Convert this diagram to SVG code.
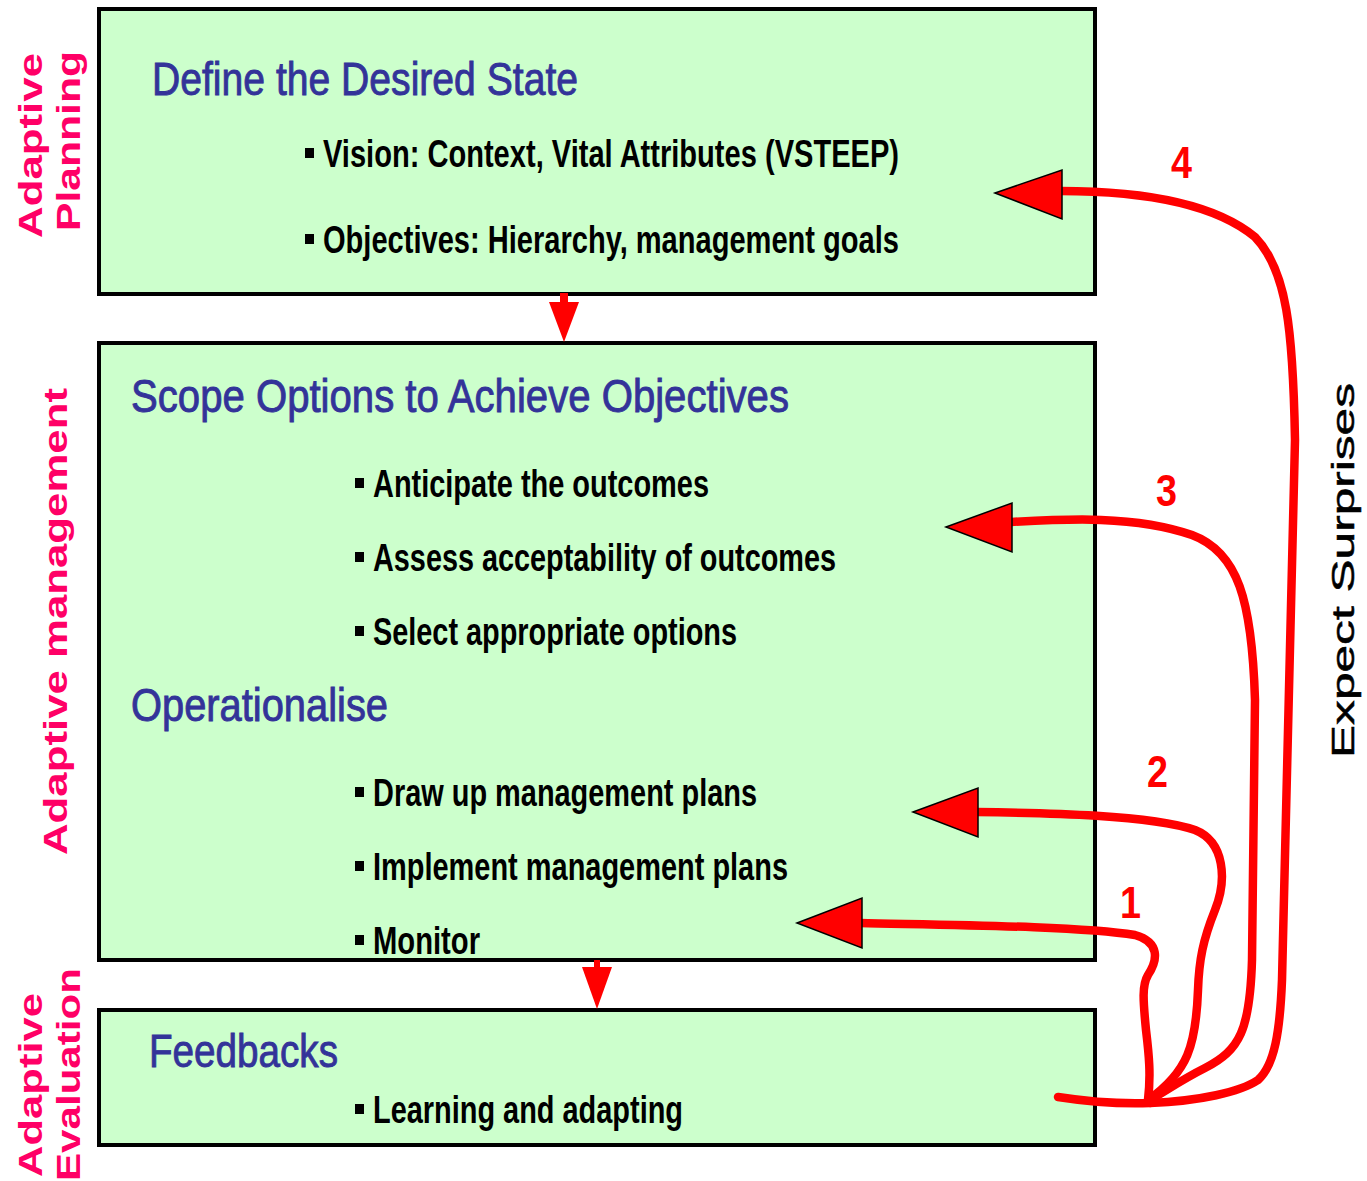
<svg xmlns="http://www.w3.org/2000/svg" width="1367" height="1181" viewBox="0 0 1367 1181">
<style>
.box{fill:#ccffcc;stroke:#000;stroke-width:4}
.head{font-family:"Liberation Sans",Arial,sans-serif;font-size:46px;fill:#333399;stroke:#333399;stroke-width:0.9}
.item{font-family:"Liberation Sans",Arial,sans-serif;font-size:38px;font-weight:bold;fill:#000}
.side{font-family:"Liberation Sans",Arial,sans-serif;font-size:34px;font-weight:bold;fill:#ff0066}
.num{font-family:"Liberation Sans",Arial,sans-serif;font-size:44px;font-weight:bold;fill:#ff0000}
.bul{fill:#000}
.loop{fill:none;stroke:#ff0000;stroke-width:8.5;stroke-linecap:round;stroke-linejoin:round}
.ah{fill:#ff0000;stroke:#000;stroke-width:1.5;stroke-linejoin:miter}
.down{fill:#ff0000}
</style>
<rect width="1367" height="1181" fill="#ffffff"/>

<g id="label-planning">
<text class="side" transform="translate(42,238) rotate(-90)" textLength="185" lengthAdjust="spacingAndGlyphs">Adaptive</text>
<text class="side" transform="translate(80,231) rotate(-90)" textLength="180" lengthAdjust="spacingAndGlyphs">Planning</text>
</g>
<g id="label-management">
<text class="side" transform="translate(67,855) rotate(-90)" textLength="467" lengthAdjust="spacingAndGlyphs">Adaptive management</text>
</g>
<g id="label-evaluation">
<text class="side" transform="translate(42,1177) rotate(-90)" textLength="184" lengthAdjust="spacingAndGlyphs">Adaptive</text>
<text class="side" transform="translate(80,1181) rotate(-90)" textLength="213" lengthAdjust="spacingAndGlyphs">Evaluation</text>
</g>
<g id="label-surprises">
<text transform="translate(1354,758) rotate(-90)" font-family="'Liberation Sans',Arial,sans-serif" font-size="31" fill="#000" stroke="#000" stroke-width="0.5" textLength="375" lengthAdjust="spacingAndGlyphs">Expect Surprises</text>
</g>

<g id="box-define">
<rect class="box" x="99" y="9" width="996" height="285"/>
<text class="head" x="152" y="95" textLength="426" lengthAdjust="spacingAndGlyphs">Define the Desired State</text>
<rect class="bul" x="305" y="148" width="9" height="10"/>
<text class="item" x="323" y="167" textLength="576" lengthAdjust="spacingAndGlyphs">Vision: Context, Vital Attributes (VSTEEP)</text>
<rect class="bul" x="305" y="234" width="9" height="10"/>
<text class="item" x="323" y="253" textLength="576" lengthAdjust="spacingAndGlyphs">Objectives: Hierarchy, management goals</text>
</g>

<g id="box-scope">
<rect class="box" x="99" y="343" width="996" height="617"/>
<text class="head" x="131" y="412" textLength="658" lengthAdjust="spacingAndGlyphs">Scope Options to Achieve Objectives</text>
<rect class="bul" x="355" y="478" width="9" height="10"/>
<text class="item" x="373" y="497" textLength="336" lengthAdjust="spacingAndGlyphs">Anticipate the outcomes</text>
<rect class="bul" x="355" y="552" width="9" height="10"/>
<text class="item" x="373" y="571" textLength="463" lengthAdjust="spacingAndGlyphs">Assess acceptability of outcomes</text>
<rect class="bul" x="355" y="626" width="9" height="10"/>
<text class="item" x="373" y="645" textLength="364" lengthAdjust="spacingAndGlyphs">Select appropriate options</text>
<text class="head" x="131" y="721" textLength="257" lengthAdjust="spacingAndGlyphs">Operationalise</text>
<rect class="bul" x="355" y="787" width="9" height="10"/>
<text class="item" x="373" y="806" textLength="384" lengthAdjust="spacingAndGlyphs">Draw up management plans</text>
<rect class="bul" x="355" y="861" width="9" height="10"/>
<text class="item" x="373" y="880" textLength="415" lengthAdjust="spacingAndGlyphs">Implement management plans</text>
<rect class="bul" x="355" y="935" width="9" height="10"/>
<text class="item" x="373" y="954" textLength="107" lengthAdjust="spacingAndGlyphs">Monitor</text>
</g>

<g id="box-feedbacks">
<rect class="box" x="99" y="1010" width="996" height="135"/>
<text class="head" x="149" y="1067" textLength="189" lengthAdjust="spacingAndGlyphs">Feedbacks</text>
<rect class="bul" x="355" y="1104" width="9" height="10"/>
<text class="item" x="373" y="1123" textLength="310" lengthAdjust="spacingAndGlyphs">Learning and adapting</text>
</g>

<g id="connectors">
<rect class="down" x="560" y="293" width="8" height="10"/>
<polygon class="down" points="549,302 579,302 564,342"/>
<rect class="down" x="594" y="960" width="6" height="8"/>
<polygon class="down" points="582,967 612,967 597,1009"/>

<path class="loop" d="M1058,1097 C1090,1102 1120,1104 1150,1103"/>
<path class="loop" d="M1150,1103 C1200,1101 1240,1092 1258,1080 C1275,1065 1280,1030 1282,980 L1295,440 C1293,330 1287,270 1255,237 C1210,200 1130,191 1060,191"/>
<path class="loop" d="M1150,1100 C1170,1088 1185,1078 1205,1068 C1240,1050 1250,1030 1252,960 L1255,700 C1252,600 1238,552 1192,535 C1135,515 1065,519 1010,522"/>
<path class="loop" d="M1148,1100 C1188,1072 1196,1045 1198,990 C1199,960 1203,940 1215,910 C1227,880 1225,842 1195,830 C1150,815 1050,813 976,812"/>
<path class="loop" d="M1148,1100 C1151,1075 1149,1055 1146,1030 C1143,1000 1142,985 1148,975 C1158,960 1160,942 1135,935 C1080,926 950,925 860,923"/>

<polygon class="ah" points="995,193 1062,170 1062,219"/>
<polygon class="ah" points="946,527 1012,503 1012,552"/>
<polygon class="ah" points="913,812 978,788 978,837"/>
<polygon class="ah" points="797,923 862,898 862,948"/>

<text class="num" x="1171" y="178" textLength="21" lengthAdjust="spacingAndGlyphs">4</text>
<text class="num" x="1156" y="506" textLength="21" lengthAdjust="spacingAndGlyphs">3</text>
<text class="num" x="1147" y="787" textLength="21" lengthAdjust="spacingAndGlyphs">2</text>
<text class="num" x="1120" y="918" textLength="21" lengthAdjust="spacingAndGlyphs">1</text>
</g>
</svg>
